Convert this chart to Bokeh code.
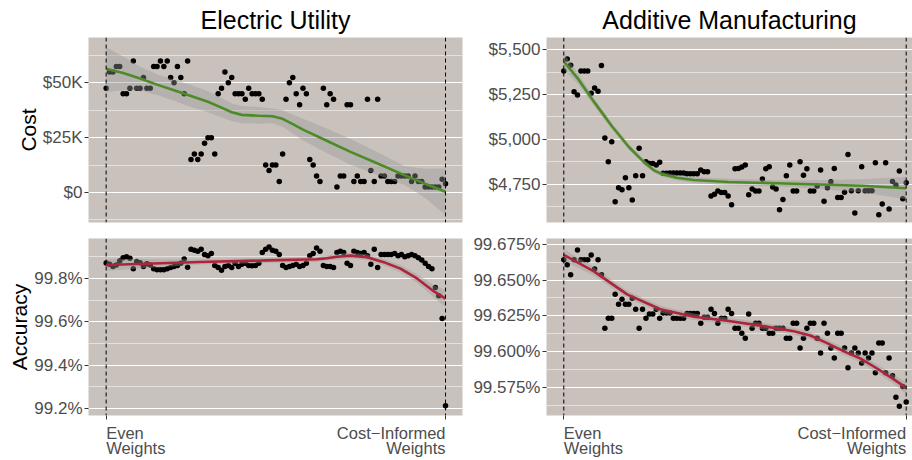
from bokeh.plotting import figure
from bokeh.models import Range1d, FixedTicker, Span
from bokeh.core.properties import value
from bokeh.layouts import column, row
from bokeh.embed import file_html
from bokeh.resources import INLINE

# ---------------- data ----------------
panel_titles = ["Electric Utility", "Additive Manufacturing"]
row_titles = ["Cost", "Accuracy"]
x_tick_labels = ["Even\nWeights", "Cost\u2212Informed\nWeights"]
x_tick_values = [0, 1]

weight_steps = list(range(101))  # step index along even -> cost-informed weights

# Electric Utility, cost in $K
eu_cost = [47.6, 55.0, 55.0, 57.5, 57.5, 45.0, 45.0, 47.6, 60.0, 47.6,
           47.6, 52.5, 47.6, 47.6, 57.5, 57.5, 60.0, 57.5, 60.0, 52.5,
           50.0, 57.5, 52.5, 45.0, 60.0, 15.0, 17.5, 15.0, 17.5, 22.5,
           25.0, 25.0, 17.5, 45.0, 47.5, 55.0, 50.0, 52.5, 45.0, 45.0,
           45.0, 42.5, 47.5, 45.0, 45.0, 45.0, 42.5, 12.5, 10.0, 12.5,
           12.5, 5.0, 17.5, 42.5, 50.0, 52.5, 45.0, 40.0, 47.5, 45.0,
           15.0, 12.5, 7.5, 5.0, 47.5, 40.0, 45.0, 42.5, 2.5, 7.5,
           7.5, 40.0, 40.0, 5.0, 7.5, 5.0, 5.0, 42.5, 10.0, 5.0,
           42.5, 7.5, 7.5, 5.0, 5.0, 5.0, 7.5, 7.5, 7.5, 7.5,
           5.0, 7.5, 5.0, 5.0, 2.5, 2.5, 2.5, 2.5, 2.5, 6.0, 4.0]
eu_cost_ticks = [0, 25, 50]
eu_cost_minor = [-12.5, 12.5, 37.5, 62.5]
eu_cost_tick_labels = ["$0", "$25K", "$50K"]
eu_cost_fit_x = [0, 0.05, 0.10, 0.15, 0.20, 0.25, 0.30, 0.34, 0.37, 0.40, 0.45,
                 0.49, 0.52, 0.55, 0.58, 0.65, 0.72, 0.80, 0.88, 0.94, 1.0]
eu_cost_fit = [56.4, 54.5, 52.0, 49.2, 46.6, 44.0, 41.4, 38.7, 36.6, 35.4, 35.0,
               34.8, 33.6, 31.2, 28.7, 23.6, 18.5, 13.2, 7.8, 4.0, 0.3]
eu_cost_lo = [45.8, 46.6, 46.5, 44.5, 41.8, 39.0, 36.6, 34.3, 32.6, 31.6, 31.4,
              31.6, 30.0, 26.8, 23.8, 18.0, 12.6, 8.0, 3.4, -2.5, -10.3]
eu_cost_hi = [66.3, 62.0, 57.3, 53.9, 51.4, 49.0, 46.2, 43.1, 40.6, 39.5, 38.9,
              38.3, 37.5, 35.5, 33.6, 29.2, 24.4, 18.4, 12.0, 10.8, 10.9]

# Additive Manufacturing, cost in $
am_cost = [5382, 5448, 5413, 5266, 5248, 5382, 5382, 5382, 5258, 5286,
           5268, 5412, 5008, 4875, 4987, 4653, 4730, 4720, 4787, 4730,
           4663, 4798, 4951, 4798, 4875, 4866, 4866, 4857, 4873, 4811,
           4811, 4813, 4813, 4813, 4813, 4813, 4808, 4808, 4808, 4808,
           4829, 4820, 4820, 4685, 4694, 4712, 4704, 4704, 4684, 4636,
           4836, 4838, 4846, 4858, 4691, 4723, 4713, 4713, 4779, 4836,
           4847, 4735, 4724, 4608, 4665, 4798, 4857, 4713, 4713, 4875,
           4800, 4837, 4713, 4713, 4741, 4829, 4655, 4731, 4764, 4838,
           4677, 4677, 4705, 4916, 4714, 4590, 4714, 4847, 4714, 4714,
           4714, 4870, 4580, 4640, 4870, 4612, 4765, 4746, 4824, 4670, 4758]
am_cost_ticks = [4750, 5000, 5250, 5500]
am_cost_minor = [4625, 4875, 5125, 5375]
am_cost_tick_labels = ["$4,750", "$5,000", "$5,250", "$5,500"]
am_cost_fit_x = [0, 0.04, 0.09, 0.14, 0.19, 0.235, 0.265, 0.29, 0.33, 0.38, 0.48, 0.67, 0.87, 1.0]
am_cost_fit = [5435, 5342, 5205, 5075, 4958, 4872, 4826, 4804, 4786, 4774, 4763, 4753, 4742, 4728]
am_cost_lo = [5390, 5312, 5183, 5057, 4942, 4857, 4812, 4790, 4771, 4757, 4745, 4735, 4706, 4666]
am_cost_hi = [5480, 5372, 5227, 5093, 4974, 4887, 4840, 4818, 4801, 4791, 4781, 4771, 4778, 4790]

# Electric Utility, accuracy in %
eu_acc = [99.871, 99.865, 99.855, 99.862, 99.880, 99.895, 99.900, 99.893, 99.845, 99.878,
          99.872, 99.855, 99.868, 99.862, 99.845, 99.840, 99.840, 99.840, 99.845, 99.850,
          99.855, 99.860, 99.870, 99.890, 99.852, 99.935, 99.930, 99.925, 99.935, 99.910,
          99.905, 99.915, 99.860, 99.850, 99.838, 99.855, 99.860, 99.850, 99.870, 99.855,
          99.865, 99.870, 99.860, 99.858, 99.860, 99.870, 99.920, 99.935, 99.945, 99.930,
          99.925, 99.910, 99.860, 99.850, 99.855, 99.860, 99.865, 99.855, 99.860, 99.870,
          99.905, 99.915, 99.940, 99.925, 99.860, 99.855, 99.855, 99.850, 99.920, 99.925,
          99.920, 99.870, 99.860, 99.925, 99.920, 99.915, 99.920, 99.905, 99.865, 99.935,
          99.850, 99.910, 99.910, 99.910, 99.910, 99.915, 99.905, 99.910, 99.900, 99.905,
          99.910, 99.905, 99.895, 99.885, 99.870, 99.855, 99.845, 99.758, 99.720, 99.615, 99.213]
eu_acc_ticks = [99.2, 99.4, 99.6, 99.8]
eu_acc_minor = [99.3, 99.5, 99.7, 99.9]
eu_acc_tick_labels = ["99.2%", "99.4%", "99.6%", "99.8%"]
eu_acc_fit_x = [0, 0.277, 0.474, 0.621, 0.65, 0.68, 0.72, 0.769, 0.818, 0.867, 0.916, 0.966, 1.0]
eu_acc_fit = [99.862, 99.876, 99.883, 99.888, 99.893, 99.900, 99.905, 99.898, 99.875, 99.845, 99.800, 99.740, 99.707]
eu_acc_lo = [99.835, 99.864, 99.871, 99.876, 99.881, 99.887, 99.892, 99.885, 99.860, 99.828, 99.780, 99.712, 99.667]
eu_acc_hi = [99.889, 99.888, 99.895, 99.900, 99.905, 99.913, 99.918, 99.911, 99.890, 99.862, 99.820, 99.768, 99.747]

# Additive Manufacturing, accuracy in %
am_acc = [99.6642, 99.6607, 99.6538, 99.6642, 99.6711, 99.6642, 99.6642, 99.6642, 99.6676, 99.6577,
          99.6642, 99.6538, 99.6163, 99.6232, 99.6232, 99.6400, 99.6331, 99.6365, 99.6331, 99.6331,
          99.6372, 99.6296, 99.6163, 99.6296, 99.6232, 99.6262, 99.6262, 99.6296, 99.6232, 99.6270,
          99.6270, 99.6270, 99.6232, 99.6232, 99.6232, 99.6232, 99.6266, 99.6266, 99.6266, 99.6266,
          99.6197, 99.6239, 99.6239, 99.6296, 99.6266, 99.6197, 99.6232, 99.6232, 99.6296, 99.6266,
          99.6163, 99.6163, 99.6128, 99.6093, 99.6262, 99.6163, 99.6197, 99.6197, 99.6163, 99.6163,
          99.6128, 99.6128, 99.6163, 99.6163, 99.6163, 99.6093, 99.6093, 99.6197, 99.6197, 99.6024,
          99.6093, 99.6163, 99.6197, 99.6197, 99.6093, 99.5990, 99.6197, 99.6128, 99.6024, 99.5955,
          99.6128, 99.6128, 99.6024, 99.5886, 99.5990, 99.6024, 99.5990, 99.5920, 99.5990, 99.5955,
          99.5990, 99.5851, 99.6059, 99.6059, 99.5851, 99.5955, 99.5830, 99.5679, 99.5617, 99.5755, 99.5646]
am_acc_ticks = [99.575, 99.600, 99.625, 99.650, 99.675]
am_acc_minor = [99.5625, 99.5875, 99.6125, 99.6375, 99.6625]
am_acc_tick_labels = ["99.575%", "99.600%", "99.625%", "99.650%", "99.675%"]
am_acc_fit_x = [0, 0.088, 0.185, 0.282, 0.38, 0.477, 0.574, 0.672, 0.72, 0.769, 0.818, 0.867, 0.915, 0.964, 1.0]
am_acc_fit = [99.6676, 99.6561, 99.6400, 99.6296, 99.6243, 99.6215, 99.6181, 99.6142, 99.6112,
              99.6059, 99.6001, 99.5950, 99.5881, 99.5805, 99.5745]
am_acc_lo = [99.6636, 99.6531, 99.6374, 99.6272, 99.6220, 99.6192, 99.6158, 99.6118, 99.6088,
             99.6034, 99.5975, 99.5922, 99.5851, 99.5772, 99.5705]
am_acc_hi = [99.6716, 99.6591, 99.6426, 99.6320, 99.6266, 99.6238, 99.6204, 99.6166, 99.6136,
             99.6084, 99.6027, 99.5978, 99.5911, 99.5838, 99.5785]

# ---------------- style ----------------
FONT = "Liberation Sans"
PANEL_BG = "#C9C1BC"
TICK_GREY = "#4D4D4D"
GREEN = "#4E8B27"
RED = "#B0243A"

xs = [s / 100 for s in weight_steps]

LX = (-0.052, 1.05)
RX = (-0.0505, 1.0184)


def make_panel(width, height, border, x_range, y_range, pts, fit_x, fit, lo, hi,
               ticks, minor, tick_labels, line_color, title=None, title_offset=0,
               ylabel=None, bottom=False):
    p = figure(width=width, height=height, output_backend="svg", toolbar_location=None,
               x_range=Range1d(*x_range), y_range=Range1d(*y_range),
               min_border_left=border[0], min_border_right=border[1],
               min_border_top=border[2], min_border_bottom=border[3])
    p.background_fill_color = PANEL_BG
    p.border_fill_color = "white"
    p.outline_line_color = None
    p.xgrid.visible = False
    p.ygrid.grid_line_color = "white"
    p.ygrid.grid_line_width = 1.1
    p.ygrid.minor_grid_line_color = "white"
    p.ygrid.minor_grid_line_width = 0.6
    p.ygrid.minor_grid_line_alpha = 0.85

    yax = p.yaxis[0]
    yax.ticker = FixedTicker(ticks=ticks, minor_ticks=minor)
    yax.major_label_overrides = dict(zip(ticks, tick_labels))
    yax.axis_line_color = None
    yax.minor_tick_line_color = None
    yax.major_tick_line_color = "#333333"
    yax.major_tick_in = 0
    yax.major_tick_out = 4
    yax.major_label_standoff = 2
    yax.major_label_text_font = FONT
    yax.major_label_text_font_size = "17px"
    yax.major_label_text_color = TICK_GREY
    if ylabel:
        yax.axis_label = ylabel
        yax.axis_label_text_font = FONT
        yax.axis_label_text_font_size = "21px"
        yax.axis_label_text_font_style = "normal"
        yax.axis_label_text_color = "black"
        yax.axis_label_standoff = 0

    xax = p.xaxis[0]
    if bottom:
        xax.ticker = FixedTicker(ticks=x_tick_values, minor_ticks=[])
        xax.major_label_overrides = {v: " " for v in x_tick_values}
        xax.major_label_text_font_size = "1px"
        xax.major_label_standoff = 0
        xax.axis_line_color = None
        xax.minor_tick_line_color = None
        xax.major_tick_line_color = "#333333"
        xax.major_tick_in = 0
        xax.major_tick_out = 4
    else:
        xax.visible = False

    p.scatter(xs, pts, size=5.5, color="black", line_color=None)
    p.varea(x=fit_x, y1=lo, y2=hi, fill_color="#999999", fill_alpha=0.4)
    p.line(fit_x, fit, line_color=line_color, line_width=2.6)
    for v in x_tick_values:
        p.add_layout(Span(location=v, dimension="height", line_color="black",
                          line_dash="4 3", line_width=1))
    if title:
        p.title.text = title
        p.title.align = "center"
        p.title.offset = title_offset
        p.title.text_font = FONT
        p.title.text_font_size = "25px"
        p.title.text_font_style = "normal"
        p.title.text_color = "black"
        p.title.standoff = 7
    return p


def make_tick_label_strip(width, height, border, x_range):
    p = figure(width=width, height=height, output_backend="svg", toolbar_location=None,
               x_range=Range1d(*x_range), y_range=Range1d(0, 1),
               x_axis_location=None, y_axis_location=None,
               min_border_left=border[0], min_border_right=border[1],
               min_border_top=0, min_border_bottom=0)
    p.grid.visible = False
    p.outline_line_color = None
    p.background_fill_color = "white"
    p.border_fill_color = "white"
    for v, t, al in zip(x_tick_values, x_tick_labels, ["left", "right"]):
        p.text(x=[v], y=[1], text=[t], text_align=al, text_baseline="top",
               text_font=value(FONT), text_font_size=value("16.5px"),
               text_color=TICK_GREY, text_line_height=0.87)
    return p


tl = make_panel(466, 230, (88, 4, 37, 8), LX, (-13.7, 70.7), eu_cost,
                eu_cost_fit_x, eu_cost_fit, eu_cost_lo, eu_cost_hi,
                eu_cost_ticks, eu_cost_minor, eu_cost_tick_labels, GREEN,
                title=panel_titles[0], ylabel=row_titles[0])
tr = make_panel(446, 230, (80, 0, 37, 8), RX, (4537, 5568), am_cost,
                am_cost_fit_x, am_cost_fit, am_cost_lo, am_cost_hi,
                am_cost_ticks, am_cost_minor, am_cost_tick_labels, GREEN,
                title=panel_titles[1], title_offset=5)
bl = make_panel(466, 193, (88, 4, 8, 5), LX, (99.168, 99.984), eu_acc,
                eu_acc_fit_x, eu_acc_fit, eu_acc_lo, eu_acc_hi,
                eu_acc_ticks, eu_acc_minor, eu_acc_tick_labels, RED,
                ylabel=row_titles[1], bottom=True)
br = make_panel(446, 193, (80, 0, 8, 5), RX, (99.5552, 99.6791), am_acc,
                am_acc_fit_x, am_acc_fit, am_acc_lo, am_acc_hi,
                am_acc_ticks, am_acc_minor, am_acc_tick_labels, RED,
                bottom=True)
bl_lab = make_tick_label_strip(466, 37, (88, 4), LX)
br_lab = make_tick_label_strip(446, 37, (80, 0), RX)

layout = column(row(tl, tr), row(bl, br), row(bl_lab, br_lab))
open("out.html", "w").write(file_html(layout, INLINE))
